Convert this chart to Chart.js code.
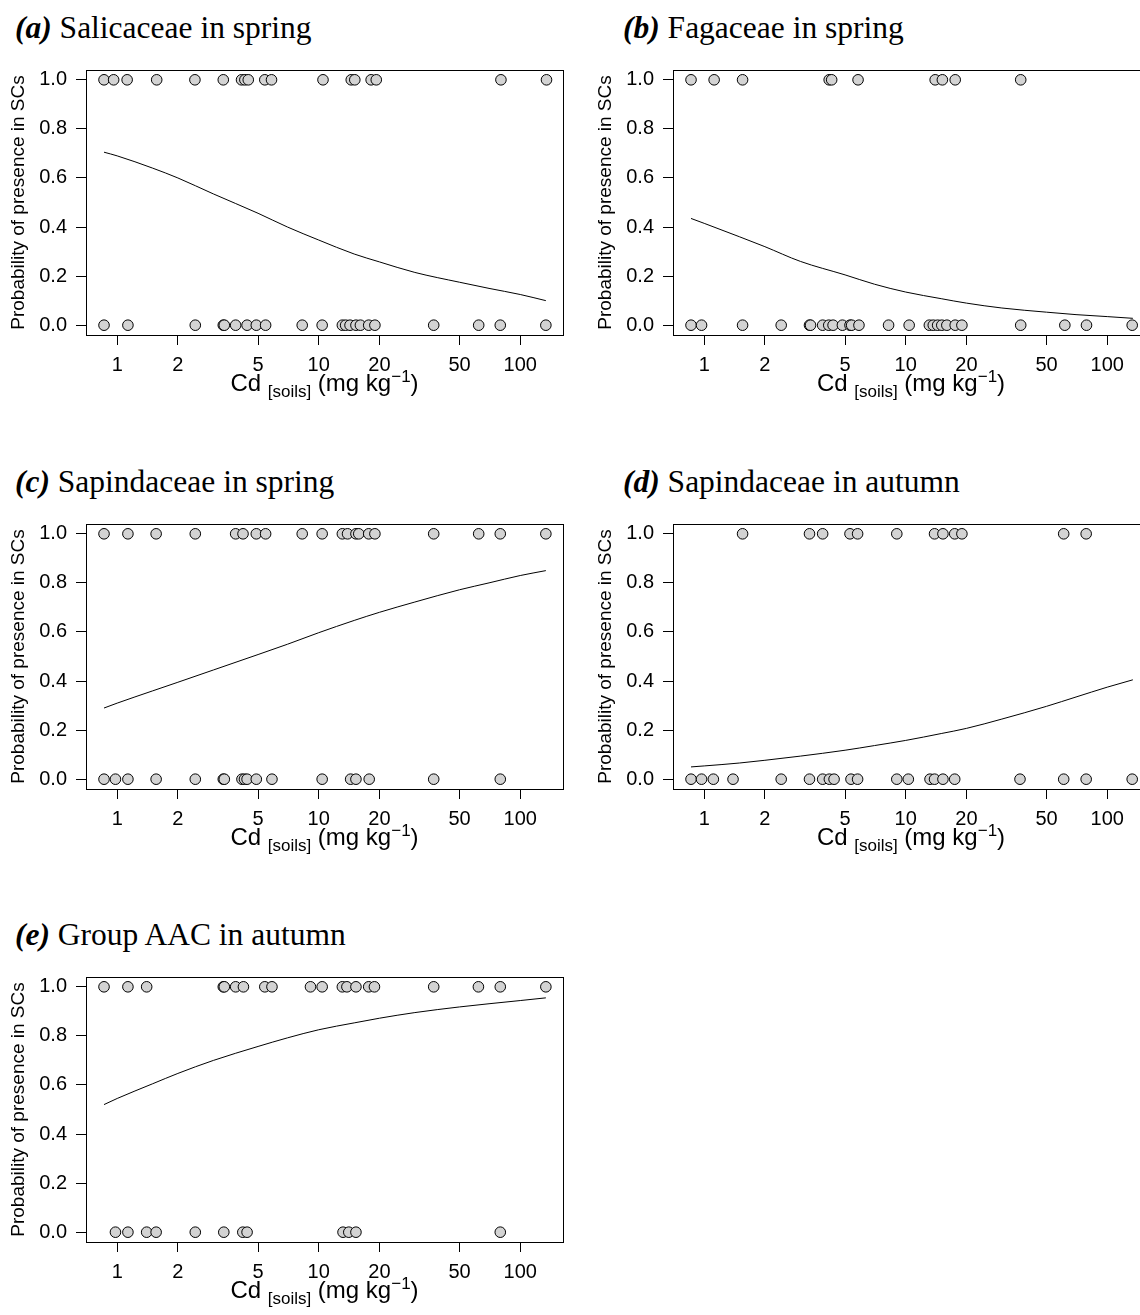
<!DOCTYPE html>
<html lang="en">
<head>
<meta charset="UTF-8" />
<title>Probability of presence in SCs vs Cd soils</title>
<script src="https://cdn.jsdelivr.net/npm/chart.js"></script>
<style>
  html, body { margin: 0; padding: 0; background: #fff; overflow: hidden; }
  #page { position: relative; width: 1140px; height: 1315px; overflow: hidden; }
  .panel { position: absolute; width: 580px; height: 340px; }
  .panel canvas { position: absolute; left: 0; top: 0; }
  .ptitle { position: absolute; top: -48px; font-family: "Liberation Serif", "Times New Roman", serif;
            font-size: 31.5px; line-height: 32px; white-space: nowrap; color: #000; }
  .xtitle { position: absolute; left: 86px; width: 477px; top: 311px; font-family: "Liberation Sans", Arial, sans-serif;
            font-size: 24px; line-height: 24px; text-align: center; white-space: nowrap; color: #000; }
  .xtitle sub, .xtitle sup { font-size: 17px; line-height: 0; }
</style>
</head>
<body>
<div id="page"></div>

<script>
  // axis ticks (Cd in mg/kg, log axis) and probability ticks
  const cdTicks = [1, 2, 5, 10, 20, 50, 100];
  const probTicks = [0, 0.2, 0.4, 0.6, 0.8, 1.0];
  const cdMin = 0.70, cdMax = 163;

  // x positions where the fitted curves were read
  const curveCd = [0.86, 1, 1.5, 2, 3, 5, 7, 10, 15, 20, 30, 50, 70, 100, 134];

  // (a) Salicaceae in spring
  const aPresent = [0.86, 0.96, 1.12, 1.57, 2.43, 3.36, 4.14, 4.30, 4.47, 5.40, 5.83, 10.5, 14.5, 15.1, 18.2, 19.3, 80.2, 135];
  const aAbsent = [0.86, 1.13, 2.44, 3.36, 3.40, 3.87, 4.41, 4.90, 5.45, 8.28, 10.4, 13.1, 13.6, 14.3, 15.3, 16.1, 17.7, 19.0, 37.2, 62.2, 79.6, 134];
  const aCurve = [0.705, 0.69, 0.64, 0.60, 0.535, 0.456, 0.40, 0.347, 0.29, 0.258, 0.215, 0.175, 0.15, 0.125, 0.10];

  // (b) Fagaceae in spring
  const bPresent = [0.86, 1.12, 1.55, 4.17, 4.29, 5.8, 14.0, 15.2, 17.6, 37.2];
  const bAbsent = [0.86, 0.97, 1.55, 2.41, 3.33, 3.37, 3.87, 4.15, 4.36, 4.85, 5.29, 5.39, 5.86, 8.22, 10.4, 13.1, 13.7, 14.4, 15.1, 16.0, 17.6, 19.0, 37.2, 61.6, 78.9, 133];
  const bCurve = [0.435, 0.415, 0.36, 0.32, 0.26, 0.205, 0.167, 0.135, 0.108, 0.09, 0.07, 0.053, 0.043, 0.035, 0.028];

  // (c) Sapindaceae in spring
  const cPresent = [0.86, 1.13, 1.56, 2.44, 3.87, 4.21, 4.90, 5.45, 8.28, 10.4, 13.1, 13.9, 15.3, 15.8, 17.7, 19.0, 37.2, 62.2, 79.6, 134];
  const cAbsent = [0.86, 0.98, 1.13, 1.56, 2.44, 3.36, 3.40, 4.16, 4.28, 4.41, 4.90, 5.86, 10.4, 14.4, 15.3, 17.8, 37.2, 79.6];
  const cCurve = [0.29, 0.31, 0.36, 0.395, 0.445, 0.508, 0.55, 0.597, 0.647, 0.68, 0.722, 0.772, 0.80, 0.83, 0.85];

  // (d) Sapindaceae in autumn
  const dPresent = [1.55, 3.33, 3.87, 5.29, 5.77, 9.03, 13.9, 15.3, 17.5, 19.0, 60.8, 78.6];
  const dAbsent = [0.86, 0.97, 1.11, 1.39, 2.41, 3.33, 3.87, 4.18, 4.41, 5.35, 5.77, 9.03, 10.3, 13.2, 13.9, 15.3, 17.5, 36.9, 60.8, 78.6, 133];
  const dCurve = [0.05, 0.054, 0.066, 0.077, 0.094, 0.118, 0.137, 0.158, 0.186, 0.207, 0.245, 0.297, 0.335, 0.375, 0.405];

  // (e) Group AAC in autumn
  const ePresent = [0.86, 1.13, 1.40, 3.36, 3.40, 3.87, 4.23, 5.40, 5.86, 9.10, 10.4, 13.1, 13.8, 15.3, 17.7, 18.9, 37.2, 62.0, 79.6, 134];
  const eAbsent = [0.98, 1.13, 1.40, 1.56, 2.44, 3.38, 4.20, 4.41, 13.2, 14.1, 15.3, 79.6];
  const eCurve = [0.52, 0.545, 0.605, 0.647, 0.70, 0.757, 0.792, 0.825, 0.853, 0.872, 0.895, 0.918, 0.931, 0.944, 0.955];

  Chart.defaults.font.family = '"Liberation Sans", Arial, sans-serif';
  Chart.defaults.color = '#000';

  // R-style box round the plotting region
  const boxPlugin = {
    id: 'box',
    afterDatasetsDraw(chart) {
      const a = chart.chartArea, ctx = chart.ctx;
      ctx.save();
      ctx.strokeStyle = '#000';
      ctx.lineWidth = 1;
      ctx.strokeRect(Math.round(a.left) + 0.5, Math.round(a.top) + 0.5,
                     Math.round(a.right - a.left), Math.round(a.bottom - a.top));
      ctx.restore();
    }
  };

  const page = document.getElementById('page');

  function makePanel(left, top, titleLeft, letter, name, present, absent, curve) {
    const div = document.createElement('div');
    div.className = 'panel';
    div.style.left = left + 'px';
    div.style.top = top + 'px';
    div.innerHTML =
      '<div class="ptitle" style="left:' + titleLeft + 'px"><b><i>(' + letter + ')</i></b> ' + name + '</div>' +
      '<canvas width="580" height="315"></canvas>' +
      '<div class="xtitle">Cd <sub>[soils]</sub> (mg kg<sup>\u22121</sup>)</div>';
    page.appendChild(div);

    const pointStyle = {
      pointRadius: 5.3, pointBackgroundColor: '#d3d3d3', pointBorderColor: '#000',
      pointBorderWidth: 1, showLine: false
    };

    new Chart(div.querySelector('canvas'), {
      type: 'scatter',
      data: {
        datasets: [
          { label: 'present', data: present.map(v => ({ x: v, y: 1 })), ...pointStyle },
          { label: 'absent', data: absent.map(v => ({ x: v, y: 0 })), ...pointStyle },
          { label: 'fit', data: curveCd.map((v, i) => ({ x: v, y: curve[i] })),
            showLine: true, pointRadius: 0, borderColor: '#000', borderWidth: 1,
            cubicInterpolationMode: 'monotone' }
        ]
      },
      options: {
        responsive: false,
        animation: false,
        events: [],
        layout: { padding: { top: 10, right: 17, left: 0, bottom: 0 } },
        plugins: { legend: { display: false }, tooltip: { enabled: false } },
        scales: {
          x: {
            type: 'logarithmic', min: cdMin, max: cdMax,
            afterBuildTicks: s => { s.ticks = cdTicks.map(v => ({ value: v })); },
            afterFit: s => { s.height = 40; s.paddingLeft = 0; s.paddingRight = 0; },
            ticks: { font: { size: 20 }, padding: 8, autoSkip: false, maxRotation: 0,
                     callback: v => String(v) },
            grid: { drawOnChartArea: false, tickLength: 10, tickColor: '#000' },
            border: { display: false }
          },
          y: {
            min: -0.04, max: 1.04,
            afterBuildTicks: s => { s.ticks = probTicks.map(v => ({ value: v })); },
            afterFit: s => { s.width = 86; s.paddingTop = 0; s.paddingBottom = 0; },
            ticks: { font: { size: 20 }, padding: 9, callback: v => v.toFixed(1) },
            grid: { drawOnChartArea: false, tickLength: 10, tickColor: '#000' },
            border: { display: false },
            title: { display: true, text: 'Probability of presence in SCs',
                     font: { size: 19 }, padding: { top: 7, bottom: 0 } }
          }
        }
      },
      plugins: [boxPlugin]
    });
  }

  const colL = 0, colR = 586.5;
  const rows = [60, 513.5, 967];
  makePanel(colL, rows[0], 15, 'a', 'Salicaceae in spring', aPresent, aAbsent, aCurve);
  makePanel(colR, rows[0], 36.5, 'b', 'Fagaceae in spring', bPresent, bAbsent, bCurve);
  makePanel(colL, rows[1], 15, 'c', 'Sapindaceae in spring', cPresent, cAbsent, cCurve);
  makePanel(colR, rows[1], 36.5, 'd', 'Sapindaceae in autumn', dPresent, dAbsent, dCurve);
  makePanel(colL, rows[2], 15, 'e', 'Group AAC in autumn', ePresent, eAbsent, eCurve);
</script>
</body>
</html>
